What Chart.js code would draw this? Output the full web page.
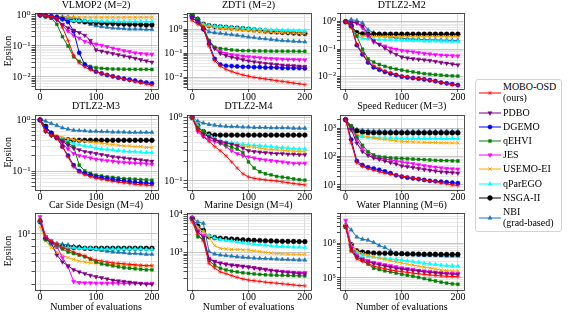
<!DOCTYPE html>
<html><head><meta charset="utf-8">
<script src="https://cdn.jsdelivr.net/npm/chart.js@4.4.1/dist/chart.umd.min.js"></script>
<style>
html,body{margin:0;padding:0;background:#fff;}
#wrap{position:relative;width:571px;height:312px;overflow:hidden;background:#fff;}
canvas.full{position:absolute;left:0;top:0;}
#legend{position:absolute;left:475px;top:79px;width:87px;height:153px;border:1px solid #d4d4d4;border-radius:3px;box-sizing:border-box;background:#fff;}
.lt{position:absolute;font:10px "Liberation Serif","DejaVu Serif",serif;color:#000;white-space:nowrap;line-height:10px;height:10px;}
.lg{position:absolute;}
</style></head><body><div id="wrap"><div id="legend"></div></div>
<script>
// ---------------- data ----------------
const evals = [0,10,20,30,40,50,60,70,80,90,100,110,120,130,140,150,160,170,180,190,200];
const methods = ['MOBO-OSD','PDBO','DGEMO','qEHVI','JES','USEMO-EI','qParEGO','NSGA-II','NBI'];
const legendLabels = [['MOBO-OSD','(ours)'],['PDBO'],['DGEMO'],['qEHVI'],['JES'],['USEMO-EI'],['qParEGO'],['NSGA-II'],['NBI','(grad-based)']];
const titles = ['VLMOP2 (M=2)','ZDT1 (M=2)','DTLZ2-M2','DTLZ2-M3','DTLZ2-M4','Speed Reducer (M=3)','Car Side Design (M=4)','Marine Design (M=4)','Water Planning (M=6)'];
const xTickValues = [0,100,200];
const yMajorTicks = [[1e-2,1e-1,1e0],[1e-2,1e-1,1e0],[1e-2,1e-1,1e0],[1e-1,1e0],[1e-1,1e0],[1e1,1e2,1e3],[1e1],[1e3,1e4],[1e5,1e6]];
const yTickLabels = [['10\u207B\u00B2','10\u207B\u00B9','10\u2070'],['10\u207B\u00B2','10\u207B\u00B9','10\u2070'],['10\u207B\u00B2','10\u207B\u00B9','10\u2070'],['10\u207B\u00B9','10\u2070'],['10\u207B\u00B9','10\u2070'],['10\u00B9','10\u00B2','10\u00B3'],['10\u00B9'],['10\u00B3','10\u2074'],['10\u2075','10\u2076']];
const yMin = [0.0041,0.0034,0.0036,0.0435,0.0734,6.9,3.63,102,46700];
const yMax = [1.16,4.7,2.07,1.25,1.10,2940,14.8,11500,7.6e6];

// series order: MOBO-OSD, PDBO, DGEMO, qEHVI, JES, USEMO-EI, qParEGO, NSGA-II, NBI (null = not run)
const VLMOP2 = [
 [1.0,0.95,0.9,0.8,0.4,0.15,0.05,0.028,0.021,0.017,0.015,0.013,0.0118,0.0105,0.0095,0.0086,0.0078,0.0071,0.0065,0.006,0.0055],
 [1.0,0.95,0.85,0.7,0.5,0.38,0.32,0.27,0.22,0.15,0.075,0.068,0.062,0.057,0.052,0.048,0.044,0.04,0.036,0.033,0.03],
 [1.0,0.95,0.9,0.85,0.75,0.6,0.3,0.06,0.025,0.019,0.015,0.013,0.0115,0.0105,0.0095,0.0088,0.0082,0.0076,0.007,0.0066,0.0062],
 [1.0,0.9,0.8,0.5,0.2,0.1,0.045,0.032,0.026,0.022,0.02,0.019,0.0185,0.018,0.018,0.0178,0.0177,0.0177,0.0176,0.0176,0.0175],
 [1.0,0.95,0.85,0.7,0.45,0.3,0.22,0.18,0.14,0.125,0.115,0.105,0.095,0.085,0.078,0.07,0.065,0.06,0.057,0.055,0.054],
 [1.0,0.9,0.88,0.86,0.86,0.85,0.85,0.85,0.85,0.85,0.85,0.85,0.85,0.85,0.85,0.85,0.85,0.85,0.85,0.85,0.85],
 [1.0,0.9,0.8,0.75,0.7,0.68,0.66,0.65,0.65,0.64,0.64,0.63,0.63,0.63,0.62,0.62,0.62,0.62,0.62,0.62,0.62],
 [1.0,0.92,0.85,0.8,0.75,0.7,0.66,0.63,0.6,0.58,0.56,0.55,0.54,0.53,0.52,0.51,0.5,0.5,0.49,0.48,0.48],
 [1.0,0.95,0.92,0.9,0.88,0.85,0.82,0.75,0.6,0.5,0.45,0.42,0.4,0.38,0.37,0.36,0.35,0.35,0.35,0.34,0.34]
];
const ZDT1 = [
 [2.3,1.6,1.2,0.2,0.05,0.03,0.022,0.018,0.015,0.013,0.0115,0.0103,0.0095,0.0088,0.0082,0.0075,0.007,0.0065,0.006,0.0056,0.0052],
 [3.0,2.0,1.0,0.3,0.16,0.1,0.082,0.07,0.062,0.055,0.049,0.045,0.042,0.039,0.037,0.035,0.033,0.032,0.031,0.03,0.029],
 [3.0,2.0,1.0,0.25,0.06,0.035,0.031,0.03,0.029,0.028,0.028,0.027,0.027,0.026,0.026,0.026,0.025,0.025,0.025,0.025,0.024],
 [3.7,2.5,1.2,0.35,0.18,0.16,0.15,0.14,0.135,0.13,0.13,0.128,0.127,0.126,0.125,0.125,0.125,0.124,0.124,0.123,0.123],
 [3.0,2.0,1.0,0.3,0.17,0.12,0.1,0.09,0.082,0.077,0.073,0.07,0.067,0.064,0.062,0.06,0.058,0.057,0.056,0.055,0.054],
 [3.0,2.0,1.5,1.3,1.2,1.1,1.05,1.0,0.95,0.9,0.87,0.84,0.8,0.78,0.76,0.74,0.72,0.7,0.69,0.68,0.67],
 [3.7,2.5,1.6,1.45,1.35,1.3,1.25,1.2,1.15,1.1,1.05,1.02,1.0,0.98,0.95,0.93,0.9,0.9,0.88,0.87,0.85],
 [3.7,2.5,1.6,1.4,1.3,1.25,1.2,1.15,1.1,1.05,1.0,0.95,0.9,0.85,0.8,0.78,0.75,0.72,0.7,0.68,0.67],
 [3.7,2.8,1.2,0.78,0.72,0.68,0.64,0.6,0.56,0.52,0.48,0.45,0.42,0.4,0.38,0.36,0.34,0.33,0.32,0.31,0.3]
];
const DTLZ2_M2 = [
 [1.0,0.7,0.15,0.07,0.035,0.025,0.02,0.016,0.014,0.012,0.0105,0.0098,0.0092,0.0086,0.0081,0.0076,0.0069,0.0062,0.0057,0.0052,0.0048],
 [1.0,0.95,0.9,0.7,0.35,0.2,0.15,0.11,0.08,0.065,0.052,0.048,0.045,0.043,0.041,0.039,0.036,0.033,0.031,0.029,0.027],
 [1.0,0.7,0.14,0.065,0.033,0.022,0.018,0.015,0.013,0.0115,0.0101,0.0095,0.009,0.0085,0.008,0.0075,0.0069,0.0062,0.0058,0.0054,0.005],
 [1.0,0.8,0.3,0.1,0.045,0.034,0.028,0.024,0.021,0.019,0.0175,0.016,0.015,0.014,0.013,0.0125,0.012,0.0115,0.011,0.0108,0.0106],
 [1.0,0.95,0.9,0.6,0.3,0.18,0.15,0.13,0.11,0.1,0.09,0.085,0.08,0.075,0.07,0.067,0.064,0.061,0.059,0.058,0.057],
 [1.0,0.6,0.35,0.3,0.29,0.29,0.29,0.29,0.285,0.285,0.285,0.285,0.285,0.285,0.285,0.285,0.285,0.285,0.285,0.285,0.285],
 [1.0,0.6,0.3,0.25,0.24,0.23,0.225,0.22,0.22,0.215,0.21,0.21,0.205,0.205,0.2,0.2,0.2,0.195,0.195,0.19,0.19],
 [1.0,0.7,0.4,0.36,0.35,0.35,0.35,0.35,0.35,0.35,0.35,0.35,0.35,0.35,0.35,0.35,0.35,0.35,0.35,0.35,0.35],
 [1.0,1.2,1.1,0.9,0.5,0.4,0.35,0.3,0.28,0.26,0.25,0.24,0.235,0.23,0.225,0.22,0.22,0.215,0.215,0.21,0.21]
];
const DTLZ2_M3 = [
 [1.0,0.6,0.5,0.45,0.3,0.19,0.12,0.095,0.085,0.078,0.072,0.069,0.066,0.063,0.061,0.059,0.057,0.055,0.054,0.053,0.052],
 [1.0,0.6,0.5,0.45,0.38,0.32,0.28,0.26,0.24,0.23,0.22,0.21,0.2,0.19,0.185,0.18,0.175,0.17,0.165,0.16,0.155],
 [1.0,0.7,0.55,0.45,0.3,0.2,0.13,0.1,0.09,0.083,0.077,0.074,0.071,0.068,0.066,0.064,0.062,0.06,0.059,0.058,0.057],
 [1.0,0.6,0.5,0.45,0.4,0.35,0.3,0.13,0.1,0.09,0.083,0.08,0.077,0.075,0.073,0.071,0.07,0.069,0.068,0.067,0.066],
 [1.0,0.6,0.5,0.45,0.35,0.27,0.22,0.2,0.19,0.18,0.17,0.165,0.16,0.155,0.15,0.148,0.145,0.143,0.14,0.138,0.136],
 [1.0,0.7,0.55,0.5,0.46,0.43,0.41,0.39,0.38,0.37,0.36,0.35,0.34,0.33,0.32,0.31,0.31,0.3,0.3,0.29,0.29],
 [1.0,0.6,0.52,0.47,0.42,0.38,0.35,0.33,0.31,0.3,0.28,0.27,0.265,0.26,0.25,0.245,0.24,0.24,0.235,0.23,0.23],
 [1.0,0.75,0.55,0.45,0.41,0.41,0.4,0.4,0.4,0.4,0.4,0.4,0.4,0.4,0.4,0.4,0.4,0.4,0.4,0.4,0.4],
 [1.0,0.95,0.85,0.78,0.7,0.66,0.63,0.62,0.61,0.6,0.6,0.59,0.59,0.58,0.58,0.58,0.57,0.57,0.57,0.57,0.57]
];
const DTLZ2_M4 = [
 [1.0,0.65,0.5,0.42,0.35,0.3,0.25,0.2,0.16,0.13,0.116,0.11,0.107,0.104,0.102,0.1,0.097,0.094,0.091,0.089,0.087],
 [1.0,0.65,0.55,0.5,0.45,0.42,0.4,0.38,0.36,0.33,0.3,0.29,0.285,0.28,0.275,0.27,0.27,0.265,0.265,0.26,0.26],
 null,
 [1.0,0.7,0.6,0.5,0.45,0.4,0.37,0.34,0.32,0.28,0.2,0.16,0.14,0.13,0.125,0.118,0.115,0.112,0.108,0.105,0.103],
 [1.0,0.6,0.5,0.45,0.42,0.39,0.35,0.3,0.27,0.25,0.24,0.23,0.22,0.215,0.21,0.205,0.2,0.195,0.19,0.19,0.19],
 [1.0,0.7,0.55,0.5,0.45,0.41,0.39,0.38,0.37,0.36,0.35,0.34,0.33,0.32,0.315,0.31,0.305,0.3,0.295,0.29,0.29],
 [1.0,0.75,0.6,0.52,0.47,0.43,0.41,0.4,0.39,0.38,0.37,0.365,0.36,0.355,0.35,0.34,0.335,0.33,0.325,0.32,0.32],
 [1.0,0.75,0.6,0.55,0.53,0.53,0.53,0.53,0.53,0.53,0.53,0.53,0.53,0.53,0.53,0.53,0.53,0.53,0.53,0.53,0.53],
 [1.0,0.88,0.82,0.78,0.76,0.74,0.73,0.72,0.72,0.71,0.71,0.7,0.7,0.7,0.69,0.69,0.69,0.69,0.68,0.68,0.68]
];
const SPEED_REDUCER = [
 [2000,300,60,45,38,33,29,26,24,22,20.5,19,17.5,16,15,14,13,12,11,10,9.5],
 [2000,900,300,150,110,90,80,70,62,55,47,44,41,38,35,33,31,29,28,27,26],
 [2000,400,70,50,42,38,34,30,26,22,19.5,18,17,16,15,14,13.5,13,12.5,12,11.5],
 [2000,1200,500,250,150,115,100,95,90,88,86,84,82,80,78,76,74,73,72,71,70],
 [2000,1200,400,200,130,100,90,82,76,70,65,60,56,52,48,45,42,40,38,37,36],
 [2000,800,600,550,500,450,420,400,380,360,345,335,330,325,320,315,312,310,308,305,305],
 [2000,800,550,500,480,470,460,455,450,445,440,440,438,436,435,435,435,435,435,435,435],
 [2000,1000,800,720,700,690,690,685,685,685,685,685,685,685,685,685,685,685,685,685,685],
 [2000,1200,900,850,820,800,800,790,790,785,785,785,785,785,785,785,785,785,785,785,785]
];
const CAR_SIDE = [
 [13,9.5,8.8,8.3,7.8,7.5,7.2,6.9,6.7,6.4,6.2,6.1,6.0,5.9,5.85,5.8,5.75,5.7,5.65,5.6,5.6],
 [12.5,9.2,8.5,6.8,6.0,5.6,5.2,5.0,4.85,4.7,4.58,4.5,4.4,4.3,4.25,4.2,4.15,4.1,4.05,4.0,4.0],
 null,
 [12.9,9.0,8.6,8.2,7.6,7.2,7.0,6.8,6.6,6.3,6.0,5.8,5.7,5.6,5.5,5.4,5.35,5.3,5.25,5.2,5.2],
 [13.7,9.5,8.8,8.0,6.5,5.5,4.2,4.12,4.1,4.1,4.08,4.08,4.07,4.07,4.07,4.06,4.06,4.06,4.05,4.05,4.05],
 [11.4,8.8,7.8,7.2,6.8,6.5,6.3,6.1,6.0,5.9,5.85,5.8,5.75,5.7,5.7,5.65,5.65,5.6,5.6,5.6,5.6],
 [12.5,9.0,8.3,8.0,7.9,7.8,7.8,7.7,7.7,7.7,7.6,7.6,7.6,7.6,7.6,7.6,7.6,7.6,7.6,7.55,7.55],
 [12.5,9.2,8.4,8.0,7.9,7.8,7.8,7.8,7.7,7.7,7.7,7.7,7.7,7.7,7.7,7.7,7.7,7.7,7.7,7.7,7.7],
 [12.8,9.5,8.6,8.4,8.3,8.2,8.0,7.9,7.7,7.6,7.5,7.4,7.3,7.2,7.15,7.1,7.0,7.0,6.95,6.9,6.9]
];
const MARINE = [
 [6500,3000,2000,500,380,300,270,240,215,195,182,175,168,160,155,150,145,140,135,130,128],
 [8000,3500,2500,650,560,510,480,455,440,425,410,390,370,350,330,315,300,290,280,270,265],
 null,
 [8000,2600,2200,600,450,375,340,315,300,285,275,265,258,252,248,245,242,240,238,236,235],
 [8500,3800,2800,700,580,520,490,460,440,420,400,380,360,345,330,320,310,300,295,290,290],
 [8000,4500,3500,2500,1500,1280,1230,1200,1180,1160,1150,1100,1050,1000,960,930,910,900,890,885,880],
 [8000,4500,3500,2800,2400,2200,2100,2000,1900,1800,1740,1650,1600,1550,1500,1450,1420,1400,1380,1370,1360],
 [8000,5000,3800,2600,2450,2360,2300,2250,2200,2150,2100,2080,2050,2020,2000,1980,1960,1950,1940,1930,1920],
 [8400,6500,5900,1040,900,850,820,790,760,740,720,700,690,680,670,660,650,640,630,625,620]
];
const WATER = [
 [3.0e6,6.0e5,3.5e5,3.0e5,2.6e5,2.2e5,2.0e5,1.85e5,1.7e5,1.6e5,1.52e5,1.45e5,1.38e5,1.32e5,1.27e5,1.22e5,1.18e5,1.15e5,1.12e5,1.1e5,1.09e5],
 [3.0e6,7.0e5,4.0e5,3.3e5,2.9e5,2.6e5,2.4e5,2.2e5,2.05e5,1.9e5,1.8e5,1.72e5,1.65e5,1.58e5,1.5e5,1.45e5,1.4e5,1.35e5,1.31e5,1.29e5,1.27e5],
 null,
 [3.0e6,6.0e5,4.0e5,3.2e5,2.5e5,1.9e5,1.75e5,1.6e5,1.5e5,1.38e5,1.27e5,1.2e5,1.12e5,1.04e5,9.6e4,8.8e4,8.2e4,7.6e4,7.1e4,6.8e4,6.6e4],
 [4.5e6,8.0e5,4.5e5,3.6e5,3.2e5,2.8e5,2.6e5,2.4e5,2.25e5,2.1e5,1.95e5,1.85e5,1.75e5,1.65e5,1.58e5,1.52e5,1.47e5,1.42e5,1.38e5,1.36e5,1.35e5],
 [3.2e6,9.0e5,6.0e5,5.0e5,4.5e5,4.0e5,3.7e5,3.4e5,3.1e5,2.9e5,2.7e5,2.5e5,2.35e5,2.2e5,2.05e5,1.92e5,1.8e5,1.7e5,1.63e5,1.6e5,1.58e5],
 [3.0e6,8.0e5,5.5e5,4.5e5,4.2e5,4.0e5,3.8e5,3.6e5,3.5e5,3.4e5,3.27e5,3.1e5,2.95e5,2.8e5,2.65e5,2.55e5,2.45e5,2.35e5,2.28e5,2.22e5,2.2e5],
 [3.0e6,9.0e5,6.0e5,5.5e5,5.3e5,5.2e5,5.1e5,5.1e5,5.1e5,5.0e5,5.0e5,4.9e5,4.9e5,4.85e5,4.8e5,4.8e5,4.8e5,4.75e5,4.75e5,4.75e5,4.75e5],
 [3.5e6,2.4e6,1.5e6,1.3e6,1.22e6,1.05e6,8.5e5,7.5e5,6.0e5,5.0e5,4.8e5,4.7e5,4.6e5,4.55e5,4.5e5,4.45e5,4.4e5,4.35e5,4.3e5,4.3e5,4.3e5]
];
const problems = [VLMOP2, ZDT1, DTLZ2_M2, DTLZ2_M3, DTLZ2_M4, SPEED_REDUCER, CAR_SIDE, MARINE, WATER];

// ---------------- styles / layout ----------------
const FONT = '"Liberation Serif","DejaVu Serif",serif';
const colors = ['#ff0000','#800080','#0000ff','#008000','#ff00ff','#ffa500','#00ffff','#000000','#1f77b4'];
const pStyles = ['star','triangle','circle','rect','triangle','crossRot','triangle','circle','triangle'];
const pRot = [0,180,0,0,180,0,0,0,0];
const pRad = [2.3,2.4,2.1,2.0,2.4,2.3,2.4,2.4,2.4];
const colX = [[34.5,157.5],[186.5,310.5],[340,463.5]];
const rowY = [[13,89],[115,189.5],[212.5,289.5]];
const titleCenter = [5,106,205];

const frame = {id:'frame', afterDraw(c){const a=c.chartArea,ctx=c.ctx;ctx.save();ctx.strokeStyle='#222';ctx.lineWidth=0.8;ctx.strokeRect(Math.round(a.left)+0.5,Math.round(a.top)+0.5,Math.round(a.right-a.left),Math.round(a.bottom-a.top));ctx.restore();}};

function logTicks(min,max){
  const out=[];
  for(let d=Math.floor(Math.log10(min)); d<=Math.ceil(Math.log10(max)); d++){
    for(let k=1;k<10;k++){const v=k*Math.pow(10,d); if(v>=min && v<=max) out.push({value:v, major:k===1});}
  }
  return out;
}

const wrap=document.getElementById('wrap');
problems.forEach((series,i)=>{
  const col=i%3,row=Math.floor(i/3);
  const [pl,pr]=colX[col]; const [pt,pb]=rowY[row];
  const yW = col===0 ? pl : 30;
  const xH = row===2 ? 312-pb : 14;
  const padTop = titleCenter[row]-5;
  const titlePadB = pt - padTop - 10;
  const cv=document.createElement('canvas'); cv.className='full'; cv.width=571; cv.height=312;
  cv.style.width='571px'; cv.style.height='312px';
  wrap.insertBefore(cv, document.getElementById('legend'));
  const datasets=[];
  series.forEach((vals,k)=>{
    if(!vals) return;
    datasets.push({label:methods[k], data:evals.map((e,j)=>({x:e,y:vals[j]})),
      borderColor:colors[k], backgroundColor:colors[k], pointBackgroundColor:colors[k], pointBorderColor:colors[k],
      borderWidth:1.0, pointStyle:pStyles[k], pointRotation:pRot[k], pointRadius:pRad[k], pointBorderWidth:k===5?1:0.5,
      tension:0, fill:false});
  });
  const majors=yMajorTicks[i], labs=yTickLabels[i];
  new Chart(cv,{type:'line',data:{datasets},options:{
    responsive:false, animation:false, devicePixelRatio:1, events:[],
    layout:{padding:{left:pl-yW, top:padTop, right:571-pr, bottom: row===2?0:312-pb-xH}},
    plugins:{legend:{display:false},tooltip:{enabled:false},
      title:{display:true,text:titles[i],color:'#000',fullSize:false,font:{family:FONT,size:10,weight:'normal',lineHeight:1},padding:{top:0,bottom:titlePadB}}},
    scales:{
      x:{type:'linear',min:-10,max:210,
        afterBuildTicks:s=>{s.ticks=xTickValues.map(v=>({value:v}));},
        afterFit:s=>{s.height=xH;},
        ticks:{color:'#000',font:{family:FONT,size:10,lineHeight:1},padding:0,maxRotation:0,autoSkip:false,callback:v=>String(v)},
        grid:{color:'#cfcfcf',lineWidth:0.8,tickLength:3,tickColor:'#222',drawTicks:true},
        border:{display:false},
        title:{display:row===2,text:'Number of evaluations',color:'#000',font:{family:FONT,size:10,weight:'normal',lineHeight:1},padding:{top:0,bottom:0}}},
      y:{type:'logarithmic',min:yMin[i],max:yMax[i],
        afterBuildTicks:s=>{s.ticks=logTicks(yMin[i],yMax[i]);},
        afterFit:s=>{s.width=yW;},
        ticks:{color:'#000',font:{family:FONT,size:10,lineHeight:1},padding:1,autoSkip:false,
          callback:(v)=>{const idx=majors.findIndex(m=>Math.abs(Math.log10(m)-Math.log10(v))<1e-6);return idx>=0?labs[idx]:'';}},
        grid:{color:c=>(c.tick&&c.tick.major)?'#b8b8b8':'#e2e2e2',lineWidth:0.8,tickLength:3,tickColor:'#222',drawTicks:true},
        border:{display:false},
        title:{display:col===0,text:'Epsilon',color:'#000',font:{family:FONT,size:10,weight:'normal',lineHeight:1.2},padding:{top:2,bottom:0}}}
    }
  },plugins:[frame]});
});

// ---------------- legend ----------------
const legend=document.getElementById('legend');
const entryCenters=[[87.3,98.0],[112.7],[126.8],[141],[155.2],[169.3],[183.5],[197.7],[211.8,223.2]];
entryCenters.forEach((cs,k)=>{
  const gy=(cs[0]+cs[cs.length-1])/2;
  const g=document.createElement('canvas'); g.className='lg'; g.width=24; g.height=10;
  g.style.left=(478-476)+'px'; g.style.top=(gy-5-80)+'px';
  legend.appendChild(g);
  const ctx=g.getContext('2d');
  ctx.strokeStyle=colors[k]; ctx.fillStyle=colors[k]; ctx.lineWidth=1.0;
  ctx.beginPath(); ctx.moveTo(1,5); ctx.lineTo(23,5); ctx.stroke();
  const opts={pointStyle:pStyles[k],rotation:pRot[k],radius:pRad[k],borderWidth:k===5?1:0.5};
  if(Chart.helpers && Chart.helpers.drawPoint){ctx.lineWidth=opts.borderWidth;Chart.helpers.drawPoint(ctx,opts,12,5);}
  else {ctx.beginPath();ctx.arc(12,5,2.5,0,Math.PI*2);ctx.fill();}
  legendLabels[k].forEach((t,j)=>{
    const d=document.createElement('div'); d.className='lt'; d.textContent=t;
    d.style.left=(503-476)+'px'; d.style.top=(cs[j]-5-80)+'px';
    legend.appendChild(d);
  });
});
</script></body></html>
